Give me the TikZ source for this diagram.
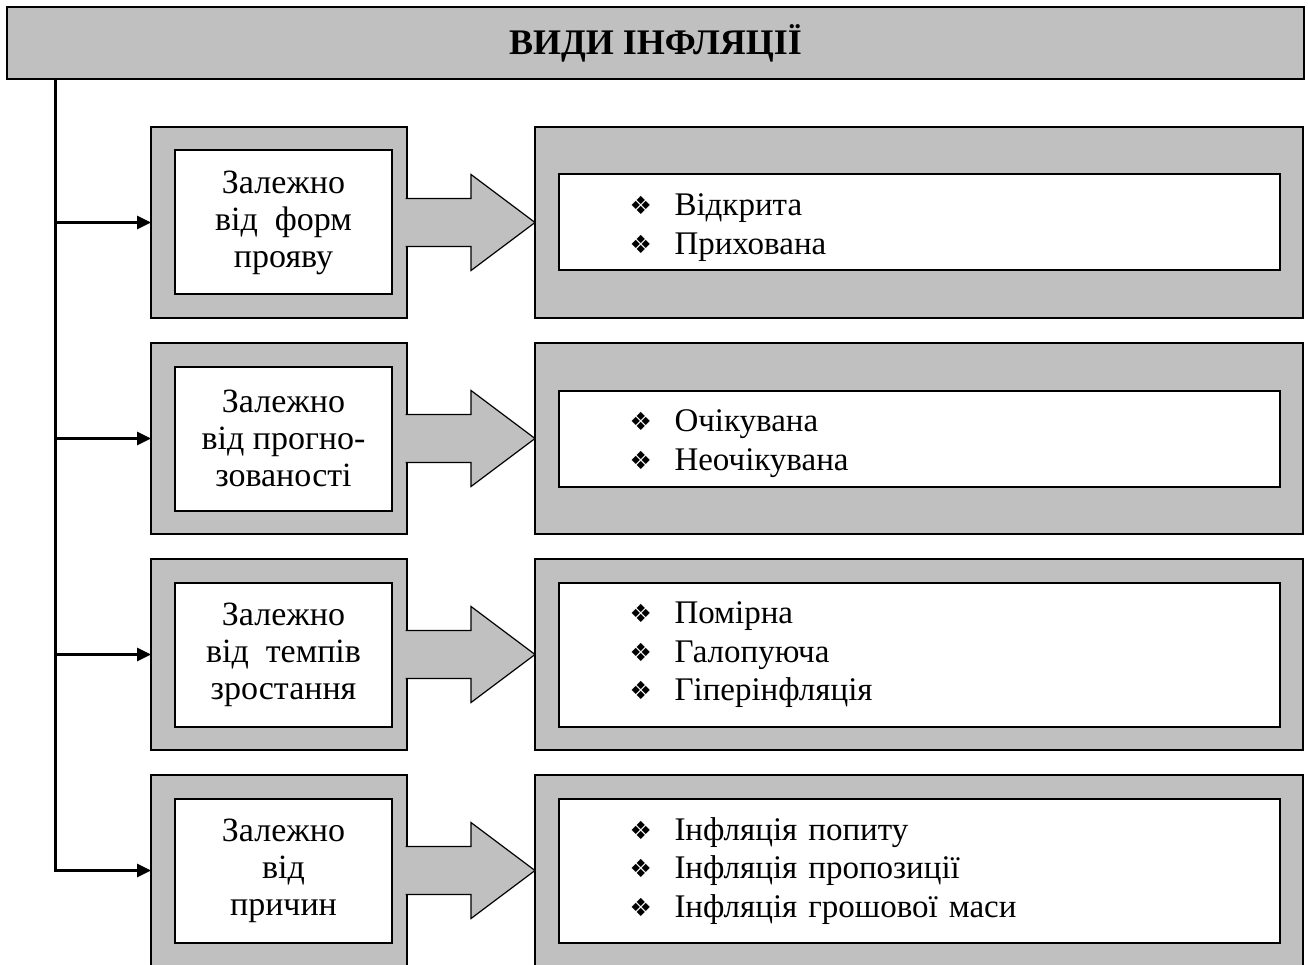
\documentclass[tikz,border=0pt]{standalone}
\usepackage{fontspec}
\setmainfont{Liberation Serif}
\newfontfamily\symfont{DejaVu Sans}
\usetikzlibrary{positioning,arrows.meta,calc}
\definecolor{boxgray}{HTML}{C0C0C0}
\newcommand{\dmd}{\makebox[45pt][l]{\raisebox{1pt}{\symfont\fontsize{25}{25}\selectfont ❖}}}

\begin{document}
\begin{tikzpicture}[
  x=1pt,y=-1pt,
  font=\fontsize{34}{37}\selectfont,
  >={Triangle[length=14pt,width=13pt]},
  title/.style={draw,line width=2pt,fill=boxgray,minimum width=1297pt,minimum height=72pt,outer sep=0pt,font=\fontsize{36}{40}\selectfont\bfseries},
  outbox/.style={draw,line width=1.2pt,fill=boxgray,minimum height=191pt,outer sep=0pt},
  lbox/.style={outbox,minimum width=256pt},
  rbox/.style={outbox,minimum width=768pt},
  inbox/.style={draw,line width=2pt,fill=white,minimum width=217pt,minimum height=144pt,align=center,outer sep=0pt},
  listbox/.style={draw,line width=2pt,fill=white,text width=579pt,inner xsep=71pt,align=left,outer sep=0pt,font=\fontsize{33}{38.5}\selectfont},
  bigarr/.style={fill=boxgray,draw,line width=1.2pt,line join=miter},
  branch/.style={->,line width=3pt},
]
\useasboundingbox (0,0) rectangle (1308,965);
\clip (0,0) rectangle (1308,965);

\node[title] (title) at (655.5,43) {ВИДИ ІНФЛЯЦІЇ};

% outer grey frames
\node[lbox] (f1) at (279,222.5) {};
\node[rbox] (r1) at (919,222.5) {};
\node[lbox,below=25pt of f1] (f2) {};
\node[rbox,below=25pt of r1] (r2) {};
\node[lbox,below=25pt of f2] (f3) {};
\node[rbox,below=25pt of r2] (r3) {};
\node[lbox,below=25pt of f3] (f4) {};
\node[rbox,below=25pt of r3] (r4) {};

% block arrows
\filldraw[bigarr] ([xshift=-1.5pt,yshift=24pt]f1.east) -- ++(65.5pt,0pt) -- ++(0pt,24pt) -- (r1.west) -- ++(-64pt,-48pt) -- ++(0pt,24pt) -- ++(-65.5pt,0pt);
\filldraw[bigarr] ([xshift=-1.5pt,yshift=24pt]f2.east) -- ++(65.5pt,0pt) -- ++(0pt,24pt) -- (r2.west) -- ++(-64pt,-48pt) -- ++(0pt,24pt) -- ++(-65.5pt,0pt);
\filldraw[bigarr] ([xshift=-1.5pt,yshift=24pt]f3.east) -- ++(65.5pt,0pt) -- ++(0pt,24pt) -- (r3.west) -- ++(-64pt,-48pt) -- ++(0pt,24pt) -- ++(-65.5pt,0pt);
\filldraw[bigarr] ([xshift=-1.5pt,yshift=24pt]f4.east) -- ++(65.5pt,0pt) -- ++(0pt,24pt) -- (r4.west) -- ++(-64pt,-48pt) -- ++(0pt,24pt) -- ++(-65.5pt,0pt);

% inner boxes
\node[inbox] (f1in) at ([xshift=4.5pt]f1) {Залежно\\від\ \ форм\\прояву};
\node[inbox] (f2in) at ([xshift=4.5pt]f2) {Залежно\\від прогно-\\зованості};
\node[inbox] (f3in) at ([xshift=4.5pt]f3) {Залежно\\від\ \ темпів\\зростання};
\node[inbox] (f4in) at ([xshift=4.5pt]f4) {Залежно\\від\\причин};

\node[listbox,minimum height=96pt] (r1in) at (r1) {\rule{0pt}{32pt}\dmd Відкрита\\\dmd Прихована};
\node[listbox,minimum height=96pt] (r2in) at (r2) {\rule{0pt}{32pt}\dmd Очікувана\\\dmd Неочікувана};
\node[listbox,minimum height=144pt] (r3in) at ([yshift=-0.5pt]r3) {\dmd Помірна\\\dmd Галопуюча\\\dmd Гіперінфляція};
\node[listbox,minimum height=144pt] (r4in) at ([yshift=-0.5pt]r4) {\dmd Інфляція попиту\\\dmd Інфляція пропозиції\\\dmd Інфляція грошової маси};

% trunk and branches
\coordinate (trunk) at ([xshift=48pt]title.south west);
\draw[branch] (trunk) |- (f4.west);
\draw[branch] (trunk |- f1.west) -- (f1.west);
\draw[branch] (trunk |- f2.west) -- (f2.west);
\draw[branch] (trunk |- f3.west) -- (f3.west);
\end{tikzpicture}
\end{document}
